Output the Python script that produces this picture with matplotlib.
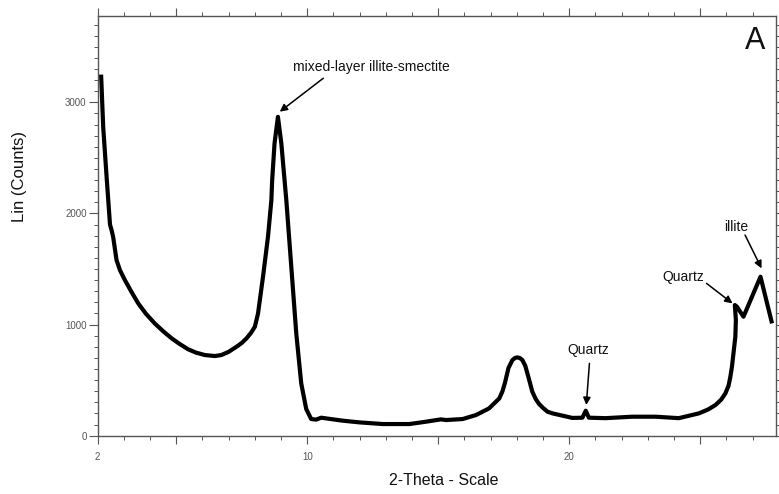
import matplotlib
matplotlib.use("Agg")
import matplotlib.pyplot as plt
import numpy as np
from matplotlib.ticker import MultipleLocator, FixedLocator

plt.rcParams['font.family'] = ['Liberation Sans', 'DejaVu Sans']

# diffractogram
two_theta = [2.13, 2.21, 2.34, 2.47, 2.53, 2.59, 2.72, 2.85, 3.04, 3.30, 3.55, 3.85,
             4.18, 4.50, 4.82, 5.10, 5.45, 5.75, 6.09, 6.47, 6.72, 7.00, 7.30, 7.50,
             7.68, 7.85, 8.00, 8.12, 8.31, 8.50, 8.63, 8.66, 8.75, 8.88, 9.01, 9.20,
             9.39, 9.58, 9.77, 9.96, 10.15, 10.34, 10.53, 11.36, 11.99, 12.88, 13.90,
             14.53, 15.10, 15.30, 15.93, 16.44, 16.94, 17.33, 17.45, 17.55, 17.68,
             17.83, 17.93, 18.02, 18.12, 18.21, 18.32, 18.45, 18.59, 18.72, 18.85,
             19.00, 19.17, 19.36, 20.12, 20.50, 20.63, 20.75, 21.39, 22.40, 23.30,
             24.18, 24.95, 25.30, 25.58, 25.80, 25.96, 26.08, 26.15, 26.21, 26.34,
             26.36, 26.32, 26.40, 26.65, 27.30, 27.74]
counts = [3250, 2780, 2330, 1900, 1850, 1790, 1580, 1490, 1400, 1290, 1190, 1095,
          1010, 940, 877, 830, 778, 748, 726, 717, 726, 755, 801, 835,
          876, 925, 981, 1100, 1430, 1790, 2120, 2300, 2630, 2870, 2630, 2120,
          1520, 920, 470, 240, 150, 145, 162, 135, 120, 105, 105,
          126, 147, 141, 150, 186, 246, 336, 400, 480, 610,
          681, 700, 705, 698, 681, 630, 520, 396, 330, 285,
          250, 216, 201, 160, 162, 225, 162, 158, 171, 171,
          158, 201, 236, 276, 325, 381, 450, 531, 621, 891,
          1041, 1176, 1161, 1071, 1431, 1011]

# peak labels: text, text position, arrow tail, arrow head
labels = ["mixed-layer illite-smectite", "Quartz", "Quartz", "illite"]
label_pos = [(12.45, 3315), (20.74, 771), (24.34, 1431), (26.38, 1881)]
arrow_from = [(10.61, 3217), (20.77, 651), (25.24, 1371), (26.71, 1806)]
arrow_to = [(8.95, 2916), (20.65, 276), (26.23, 1191), (27.34, 1506)]

x_ticks = [2, 5, 10, 15, 20, 25]
x_ticklabels = ['2', '', '10', '', '20', '']
y_ticks = [0, 1000, 2000, 3000]

fig = plt.figure(figsize=(7.79, 4.94), dpi=100)
ax = fig.add_axes([0.1254, 0.118, 0.9961 - 0.1254, 0.9682 - 0.118])

ax.plot(two_theta, counts, color='black', lw=3, solid_joinstyle='round', solid_capstyle='butt')

for txt, pos, a, b in zip(labels, label_pos, arrow_from, arrow_to):
    ax.text(pos[0], pos[1], txt, fontsize=10, ha='center', va='center', color='#111111')
    ax.annotate('', xy=b, xytext=a,
                arrowprops=dict(arrowstyle='-|>', color='black', lw=1.1,
                                mutation_scale=11, shrinkA=0, shrinkB=0))

ax.set_xlim(2, 27.89)
ax.set_ylim(0, 3780)

ax.xaxis.set_major_locator(FixedLocator(x_ticks))
ax.set_xticklabels(x_ticklabels)
ax.xaxis.set_minor_locator(MultipleLocator(1))
ax.set_yticks(y_ticks)
ax.yaxis.set_minor_locator(MultipleLocator(100))

ax.tick_params(axis='x', which='major', direction='out', length=5.5, width=0.8,
               top=True, bottom=True, labelsize=7, colors='#555555', pad=6)
ax.tick_params(axis='x', which='minor', direction='out', length=3, width=0.7,
               top=True, bottom=True, colors='#555555')
ax.tick_params(axis='y', which='major', direction='out', length=6.5, width=0.8,
               left=True, right=True, labelsize=7, colors='#555555', pad=1.5)
ax.tick_params(axis='y', which='minor', direction='out', length=3, width=0.7,
               left=True, right=True, colors='#555555')
for s in ax.spines.values():
    s.set_color('#555555')
    s.set_linewidth(1.0)

fig.text(20 / 779, 1 - 176 / 494, 'Lin (Counts)', rotation=90, fontsize=12,
         ha='center', va='center', color='#111111')
fig.text(443.5 / 779, 1 - 480 / 494, '2-Theta - Scale', fontsize=11.5,
         ha='center', va='center', color='#111111')
fig.text(755 / 779, 1 - 41 / 494, 'A', fontsize=22, ha='center', va='center', color='#111111')

fig.savefig('out.png', dpi=100)
